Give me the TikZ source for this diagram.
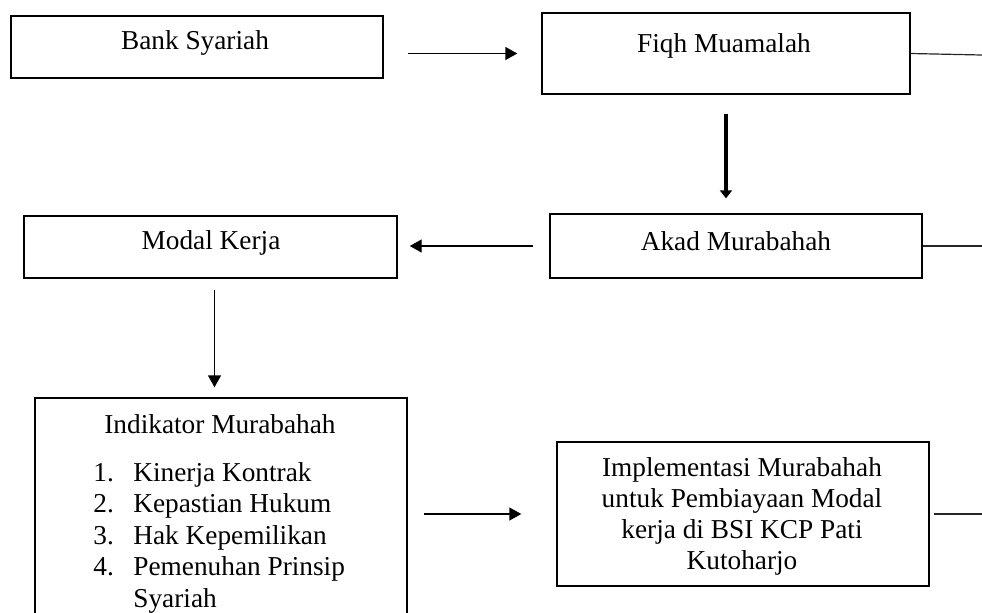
\documentclass[tikz,border=0pt]{standalone}
\usepackage{fontspec}
\setmainfont{Liberation Serif}
\usepackage{tikz}
\usetikzlibrary{calc}
\usetikzlibrary{shapes,arrows}
\usetikzlibrary{arrows.meta}
\usetikzlibrary{fit}

\begin{document}
\begin{tikzpicture}[x = 0.5pt, y = -0.5pt,
    font = \fontsize{13.65pt}{15.75pt}\selectfont,
    box/.style = {draw, black, line width = 0.7pt, inner sep = 0pt},
    arr/.style = {line width = 0.7pt, black, -{Triangle[length = 6pt, width = 6.5pt]}},
    edge/.style = {line width = 0.6pt, black!85}]
    \useasboundingbox (0,0) rectangle (982,612);
    \clip (0,0) rectangle (982,612);

    \node[box, fit = {(11,16) (383,78)}] (bank) {};
    \node[box, fit = {(542,13) (910,94)}] (fiqh) {};
    \node[box, fit = {(24,216) (397,278)}] (modal) {};
    \node[box, fit = {(550,214) (922,278)}] (akad) {};
    \node[box, fit = {(35,398) (407,640)}] (indikator) {};
    \node[box, fit = {(557,442) (929,586)}] (impl) {};

    \node (bank-txt) at (195,43) {Bank Syariah};
    \node (fiqh-txt) at (724,46) {Fiqh Muamalah};
    \node (modal-txt) at (211,243) {Modal Kerja};
    \node (akad-txt) at (736,241) {Akad Murabahah};
    \node (indikator-txt) at (220,424) {Indikator Murabahah};
    \node[anchor = base west, inner sep = 0pt] (indikator-list) at (93,481) {%
        \begin{tabular}[t]{@{}p{20pt}@{}l@{}}
            1. & Kinerja Kontrak\\
            2. & Kepastian Hukum\\
            3. & Hak Kepemilikan\\
            4. & Pemenuhan Prinsip\\
               & Syariah
        \end{tabular}};
    \node[align = center, font = \fontsize{13.65pt}{15.5pt}\selectfont] (impl-txt) at (742,516)
        {Implementasi Murabahah\\untuk Pembiayaan Modal\\kerja di BSI KCP Pati\\Kutoharjo};

    \draw[arr, shorten <= 12pt, shorten >= 12pt] (bank.east |- fiqh.west) -- (fiqh.west);
    \draw[line width = 2pt, black, -{Triangle[length = 4pt, width = 6pt]},
        shorten <= 9.5pt, shorten >= 7.5pt] (fiqh.south) -- (fiqh.south |- akad.north);
    \draw[arr, shorten <= 8pt, shorten >= 6pt] (akad.west) -- (akad.west -| modal.east);
    \draw[arr, shorten <= 5.5pt, shorten >= 5pt] ($(modal.south)+(4,0)$) -- ($(modal.south |- indikator.north)+(4,0)$);
    \draw[arr, shorten <= 8pt, shorten >= 17.5pt] (indikator.east |- impl.west) -- (impl.west);

    \foreach \n/\y/\s in {fiqh/55/0pt, akad/246/0pt, impl/514/2pt}{
        \coordinate (\n-out) at (982,\y);
        \draw[edge, shorten <= \s] (\n.east) -- (\n-out);
    }
\end{tikzpicture}
\end{document}
